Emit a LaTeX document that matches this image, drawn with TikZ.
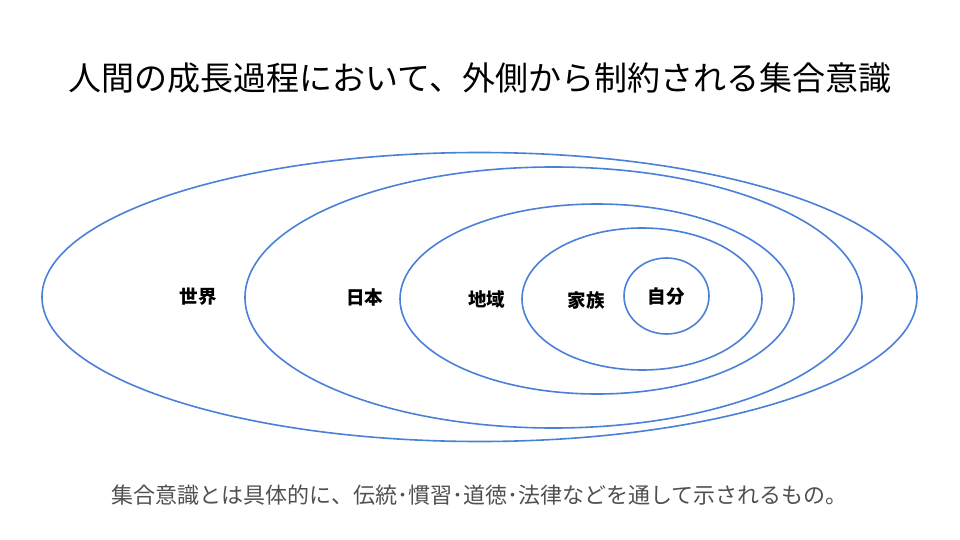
\documentclass[tikz,border=0pt]{standalone}
\usepackage{fontspec}
\setmainfont{Noto Sans CJK JP}
\usetikzlibrary{shapes.geometric}
\definecolor{ringblue}{HTML}{4A80D8}
\definecolor{notegray}{HTML}{505050}
\tikzset{
  ring/.style={ellipse, draw=ringblue, line width=1.6pt, inner sep=0pt},
  lbl/.style={font=\bfseries\fontsize{18.5}{22}\selectfont, text=black, inner sep=0pt},
}
\begin{document}
\begin{tikzpicture}[x=1pt,y=-1pt]
\useasboundingbox (0,0) rectangle (960,540);
\node[font=\fontsize{33}{40}\selectfont, inner sep=0pt] (title) at (480,78) {人間の成長過程において、外側から制約される集合意識};
\node[ring, minimum width=875pt, minimum height=289pt] (world) at (479.5,297) {};
\node[ring, minimum width=617pt, minimum height=261pt] (japan) at (553.5,297.5) {};
\node[ring, minimum width=394pt, minimum height=190pt] (region) at (597,299) {};
\node[ring, minimum width=240pt, minimum height=142pt] (family) at (642,299) {};
\node[ring, minimum width=85pt, minimum height=76pt] (self) at (666.5,296) {};
\node[lbl] (lworld) at (198,297) {世界};
\node[lbl] (ljapan) at (364.5,297) {日本};
\node[lbl] (lregion) at (486.5,299) {地域};
\node[lbl] (lfamily) at (586,300) {家族};
\node[lbl] (lself) at (666,297) {自分};
\node[font=\fontsize{22}{26}\selectfont, text=notegray, inner sep=0pt] (note) at (479.5,495) {集合意識とは具体的に、伝統･慣習･道徳･法律などを通して示されるもの。};
\end{tikzpicture}
\end{document}
